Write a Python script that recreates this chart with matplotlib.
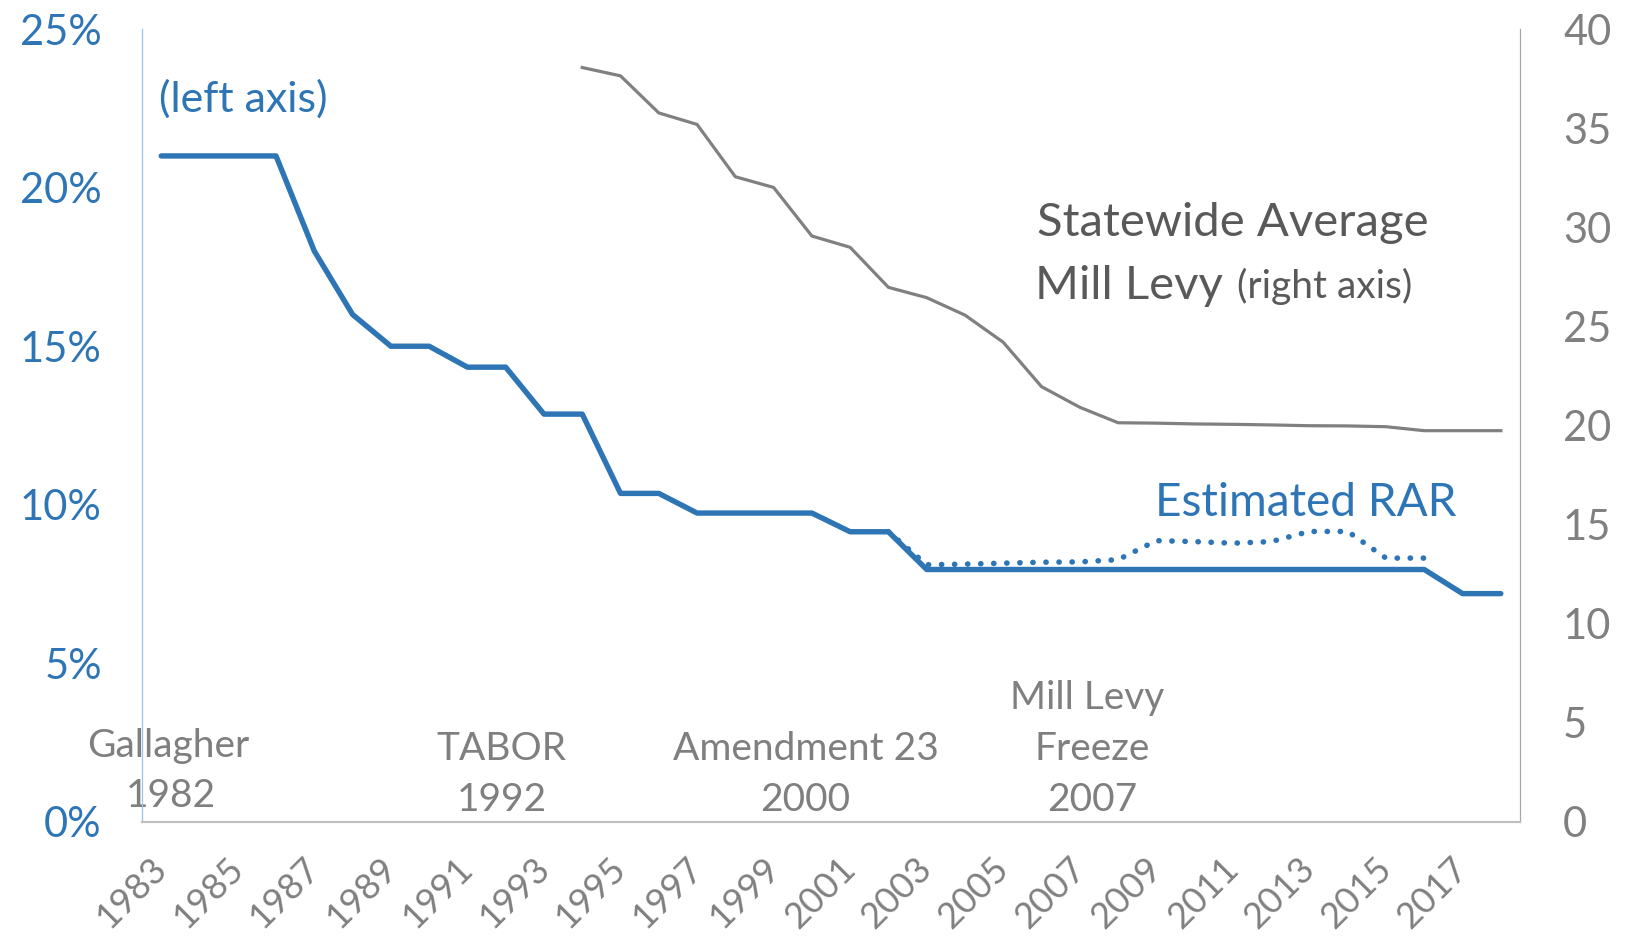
import numpy as np
import matplotlib
matplotlib.use("Agg")
import matplotlib.pyplot as plt

plt.rcParams['font.family'] = ['Lato', 'DejaVu Sans']

# Data
years = list(range(1983, 2019))
rar = [21.0, 21.0, 21.0, 21.0, 18.0, 16.0, 15.0, 15.0, 14.34, 14.34,
       12.86, 12.86, 10.36, 10.36, 9.74, 9.74, 9.74, 9.74, 9.15, 9.15,
       7.96, 7.96, 7.96, 7.96, 7.96, 7.96, 7.96, 7.96, 7.96, 7.96,
       7.96, 7.96, 7.96, 7.96, 7.20, 7.20]
est_years = list(range(2002, 2017))
est_rar = [9.15, 8.11, 8.13, 8.16, 8.19, 8.20, 8.27, 8.87, 8.84, 8.79,
           8.84, 9.16, 9.16, 8.32, 8.32]
levy_years = list(range(1994, 2019))
levy = [38.06, 37.64, 35.77, 35.19, 32.55, 32.01, 29.56, 28.99, 26.97, 26.45,
        25.57, 24.2, 21.96, 20.92, 20.14, 20.12, 20.08, 20.06, 20.03, 19.99,
        19.98, 19.94, 19.74, 19.74, 19.74]
xlabels = [str(y) for y in years[::2]]

blue = '#2E75B6'
gray = '#808080'

fig = plt.figure(figsize=(16.37, 9.38), dpi=100)
ax = fig.add_axes([0.0868, 0.1237, 0.8417, 0.8453])
ax2 = ax.twinx()

idx = np.arange(len(years))
est_idx = [years.index(y) for y in est_years]
levy_idx = [years.index(y) for y in levy_years]

ax.plot(est_idx, est_rar, color=blue, lw=4.0, linestyle=(0, (0.05, 2.3)),
        dash_capstyle='round', zorder=2)
ax.plot(idx, rar, color=blue, lw=3.9, solid_capstyle='round', zorder=3)
ax2.plot(levy_idx, levy, color=gray, lw=2.3)

ax.set_xlim(-0.5, len(years) - 0.5)
ax.set_ylim(0, 25)
ax2.set_ylim(0, 40)
ax.set_yticks(np.arange(0, 26, 5))
ax.set_yticklabels([f"{v}%" for v in range(0, 26, 5)])
ax2.set_yticks(np.arange(0, 41, 5))
ax.set_xticks(idx[::2])
ax.set_xticklabels(xlabels, rotation=45, ha='right', va='center',
                   rotation_mode='anchor')

ax.tick_params(axis='y', length=0, pad=29, labelsize=30, labelcolor=blue)
ax.tick_params(axis='x', length=0, pad=30, labelsize=26, labelcolor=gray)
ax2.tick_params(axis='y', length=0, pad=31, labelsize=30, labelcolor=gray)

for a in (ax, ax2):
    a.spines['top'].set_visible(False)
    a.spines['left'].set_color('#9DC3E6')
    a.spines['right'].set_color('#A6A6A6')
    a.spines['bottom'].set_color('#BFBFBF')
    a.spines['bottom'].set_linewidth(1.5)

# Annotations
ann = '#7F7F7F'
ax.text(-0.05, 22.8, "(left axis)", color=blue, fontsize=31, ha='left', va='center')
ax.text(28.0, 18.9, "Statewide Average", color='#595959', fontsize=34, ha='center', va='center')
ax.text(27.75, 16.9, "Mill Levy", color='#595959', fontsize=34, ha='right', va='center')
ax.text(28.1, 16.9, "(right axis)", color='#595959', fontsize=28, ha='left', va='center')
ax.text(29.9, 10.05, "Estimated RAR", color=blue, fontsize=33, ha='center', va='center')

ax.text(0.18, 2.4, "Gallagher", color=ann, fontsize=28, ha='center', va='center')
ax.text(0.25, 0.82, "1982", color=ann, fontsize=28, ha='center', va='center')
ax.text(8.9, 2.3, "TABOR", color=ann, fontsize=28, ha='center', va='center')
ax.text(8.9, 0.69, "1992", color=ann, fontsize=28, ha='center', va='center')
ax.text(16.83, 2.3, "Amendment 23", color=ann, fontsize=28, ha='center', va='center')
ax.text(16.83, 0.69, "2000", color=ann, fontsize=28, ha='center', va='center')
ax.text(24.2, 3.92, "Mill Levy", color=ann, fontsize=28, ha='center', va='center')
ax.text(24.33, 2.3, "Freeze", color=ann, fontsize=28, ha='center', va='center')
ax.text(24.33, 0.69, "2007", color=ann, fontsize=28, ha='center', va='center')

fig.savefig("out.png", dpi=100)
